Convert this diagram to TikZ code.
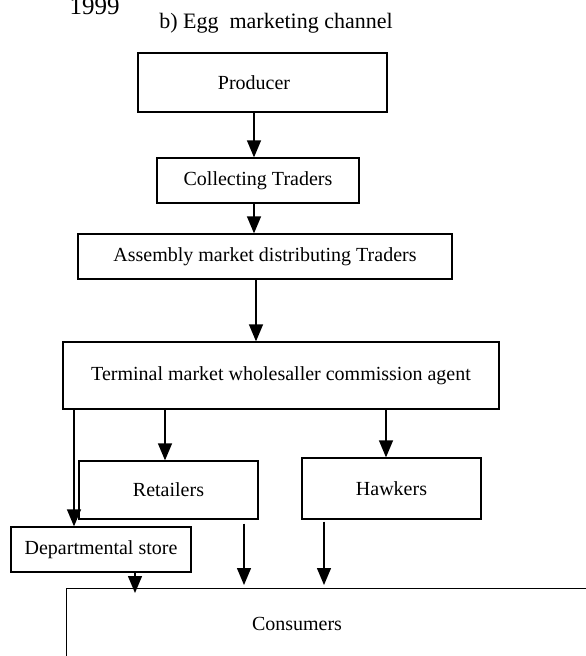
\documentclass[tikz,border=0pt]{standalone}
\usepackage{fontspec}
\setmainfont{Liberation Serif}
\usetikzlibrary{arrows.meta}
\tikzset{cell/.style={rectangle, draw, line width=1.3pt, inner sep=0pt, font=\fontsize{20}{24}\selectfont}}
\tikzset{flow/.style={line width=1.3pt, -{Triangle[length=17pt,width=14pt]}}}

\begin{document}
\begin{tikzpicture}[x=1pt,y=-1pt]

    \useasboundingbox (0,0) rectangle (586,656);

    \node[anchor=base west, font=\fontsize{25}{28}\selectfont] (year) at (66,14) {1999};
    \node[anchor=base, font=\fontsize{22}{26}\selectfont] (title) at (276,28) {b) Egg\ \ marketing channel};

    \node[cell, minimum width=249pt, minimum height=59pt] (prod) at (262.5,82.5) {\hspace*{-17pt}Producer};
    \node[cell, minimum width=202pt, minimum height=45pt] (coll) at (258,180.5) {Collecting Traders};
    \node[cell, minimum width=374pt, minimum height=45pt] (asm)  at (265,256.5) {Assembly market distributing Traders};
    \node[cell, minimum width=436pt, minimum height=67pt] (term) at (281,375.5) {Terminal market wholesaller commission agent};
    \node[cell, minimum width=179pt, minimum height=58pt] (ret)  at (168.5,490) {Retailers};
    \node[cell, minimum width=179pt, minimum height=61pt] (hawk) at (391.5,488.5) {Hawkers};
    \node[cell, minimum width=180pt, minimum height=45pt] (dept) at (101,549.5) {Departmental store};
    \node[cell, minimum width=600pt, minimum height=150pt, anchor=north west] (cons) at (66,588) {};
    \node[font=\fontsize{20}{24}\selectfont] (constext) at (297,624) {Consumers};

    \coordinate (c1) at (254,0);
    \coordinate (c2) at (256,0);
    \coordinate (c3) at (74,0);
    \coordinate (c4) at (165,0);
    \coordinate (c5) at (386,0);
    \coordinate (c6) at (135,0);
    \coordinate (c7) at (244,0);
    \coordinate (c8) at (324,0);

    \draw[flow] (prod.south -| c1) -- (coll.north -| c1);
    \draw[flow] (coll.south -| c1) -- (asm.north -| c1);
    \draw[flow] (asm.south -| c2) -- (term.north -| c2);
    \draw[flow] (term.south -| c3) -- (dept.north -| c3);
    \draw[flow] (term.south -| c4) -- (ret.north -| c4);
    \draw[flow] (term.south -| c5) -- (hawk.north -| c5);
    \draw[flow, shorten >=-5pt] (dept.south -| c6) -- (cons.north -| c6);
    \draw[flow, shorten <=4pt, shorten >=3pt] (ret.south -| c7) -- (cons.north -| c7);
    \draw[flow, shorten <=2pt, shorten >=3pt] (hawk.south -| c8) -- (cons.north -| c8);

  \end{tikzpicture}
\end{document}
